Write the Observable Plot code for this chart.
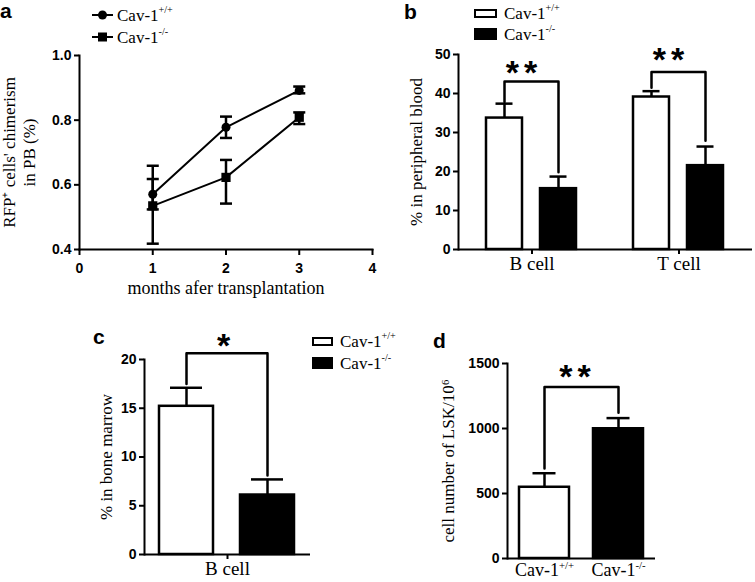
<!DOCTYPE html>
<html><head><meta charset="utf-8">
<script src="https://cdn.jsdelivr.net/npm/d3@7"></script>
<script src="https://cdn.jsdelivr.net/npm/@observablehq/plot@0.6"></script>
<style>
body{margin:0;background:#fff;}
#fig{position:relative;width:755px;height:582px;overflow:hidden;background:#fff;font-family:"Liberation Serif","Times New Roman",serif;color:#000;}
.panel{position:absolute;}
.plabel{position:absolute;font-family:"Liberation Sans",Arial,sans-serif;font-weight:bold;font-size:21px;line-height:1;}
.leg{position:absolute;height:18px;font-size:17px;line-height:1;white-space:nowrap;display:flex;align-items:center;}
.leg sup{font-size:60%;position:relative;top:-0.1em;vertical-align:super;line-height:0;}
</style></head><body><div id="fig"></div>
<script>
// ---------- data ----------
const genotypes = ["Cav-1^{+/+}", "Cav-1^{-/-}"];

// panel a: RFP+ chimerism in PB
const months = [1, 2, 3];
const aWtMean = [0.571, 0.778, 0.892];
const aWtLow  = [0.524, 0.745, 0.883];
const aWtHigh = [0.618, 0.811, 0.904];
const aKoMean = [0.535, 0.623, 0.809];
const aKoLow  = [0.418, 0.542, 0.788];
const aKoHigh = [0.659, 0.677, 0.824];
const aXTicks = [0, 1, 2, 3, 4];
const aYTicks = [0.4, 0.6, 0.8, 1.0];

// panel b: % in peripheral blood
const bCells = ["B cell", "T cell"];
const bWt = [33.7, 39.1];
const bWtHigh = [37.4, 40.6];
const bKo = [15.6, 21.5];
const bKoHigh = [18.7, 26.4];
const bBracketTop = [43.1, 45.5];
const bBracketLeft = [37.8, 41.5];
const bBracketRight = [19.8, 27.9];
const bStarY = [46.6, 50.0];
const bStars = ["**", "**"];
const bYTicks = [0, 10, 20, 30, 40, 50];

// panel c: % in bone marrow
const cCells = ["B cell"];
const cMeans = [15.2, 6.1];
const cHigh = [17.1, 7.7];
const cBracket = [17.5, 20.65, 20.65, 8.1];
const cStarY = [21.9];
const cStars = ["*"];
const cYTicks = [0, 5, 10, 15, 20];

// panel d: LSK cell number
const dMeans = [548, 998];
const dHigh = [656, 1080];
const dBracket = [692, 1320, 1320, 1122];
const dStarY = [1435];
const dStars = ["**"];
const dYTicks = [0, 500, 1000, 1500];

// ---------- helpers ----------
const SERIF = "Liberation Serif, Times New Roman, serif";
const SANS = "Liberation Sans, Arial, sans-serif";
const fig = document.getElementById("fig");
const baseStyle = {background: "transparent", overflow: "visible", fontFamily: SANS, color: "black"};
const htmlSup = s => s.replace(/\^\{(.*?)\}/g, "<sup>$1</sup>");

function supify(root) {
  root.querySelectorAll("text, tspan").forEach(el => {
    if (el.children.length) return;
    const m = el.textContent.match(/^(.*)\^\{(.*)\}(.*)$/);
    if (!m) return;
    el.textContent = m[1];
    const t = document.createElementNS("http://www.w3.org/2000/svg", "tspan");
    t.setAttribute("dy", "-0.7em");
    t.setAttribute("font-size", "60%");
    t.textContent = m[2];
    el.appendChild(t);
  });
  root.querySelectorAll("text").forEach(el => {
    if (/^\*+$/.test(el.textContent) && el.textContent.length > 1) el.style.letterSpacing = "5px";
  });
}
function place(svg, left, top, w, h) {
  const d = document.createElement("div");
  d.className = "panel";
  Object.assign(d.style, {left: left + "px", top: top + "px", width: w + "px", height: h + "px"});
  supify(svg);
  d.appendChild(svg);
  fig.appendChild(d);
}
function panelLabel(t, left, top) {
  const d = document.createElement("div");
  d.className = "plabel"; d.textContent = t;
  d.style.left = left + "px"; d.style.top = top + "px";
  fig.appendChild(d);
}
function legendRow(left, cy, swatch, label, gap) {
  const d = document.createElement("div");
  d.className = "leg";
  d.style.left = left + "px"; d.style.top = (cy - 9) + "px";
  d.innerHTML = swatch + `<span style="margin-left:${gap}px">${htmlSup(label)}</span>`;
  fig.appendChild(d);
}
const capSymbol = {draw(ctx, size) { const w = Math.sqrt(size); ctx.moveTo(-w, 0); ctx.lineTo(w, 0); }};
const SW = 2.5;
const TICKFONT = {fontWeight: "bold", fontSize: 14, fontFamily: SANS};
const STARFONT = {fontSize: 34, fontWeight: "bold", fontFamily: SANS, lineAnchor: "bottom", dy: 16};
const ylab = (txt, dx, extra = {}) => Plot.text([txt], {text: d => d, frameAnchor: "left", textAnchor: "middle", rotate: -90, dx, lineAnchor: "middle", fontFamily: SERIF, fontSize: 17, ...extra});

// ---------- panel a ----------
const aData = months.flatMap((m, i) => [
  {month: m, g: genotypes[0], mean: aWtMean[i], lo: aWtLow[i], hi: aWtHigh[i]},
  {month: m, g: genotypes[1], mean: aKoMean[i], lo: aKoLow[i], hi: aKoHigh[i]}
]);
const aWt = aData.filter(d => d.g === genotypes[0]);
const aKo = aData.filter(d => d.g === genotypes[1]);
const plotA = Plot.plot({
  width: 380, height: 300, marginLeft: 79, marginRight: 8, marginTop: 55, marginBottom: 51,
  style: baseStyle,
  x: {domain: [0, 4]}, y: {domain: [0.4, 1.0]},
  marks: [
    Plot.line(aData, {x: "month", y: "mean", z: "g", stroke: "black", strokeWidth: 2}),
    Plot.ruleX(aData, {x: "month", y1: "lo", y2: "hi", stroke: "black", strokeWidth: SW}),
    Plot.dot(aData, {x: "month", y: "lo", symbol: capSymbol, r: 3.4, stroke: "black", strokeWidth: SW, fill: "none"}),
    Plot.dot(aData, {x: "month", y: "hi", symbol: capSymbol, r: 3.4, stroke: "black", strokeWidth: SW, fill: "none"}),
    Plot.dot(aWt, {x: "month", y: "mean", symbol: "circle", r: 4.5, fill: "black", stroke: "none"}),
    Plot.dot(aKo, {x: "month", y: "mean", symbol: "square", r: 5.2, fill: "black", stroke: "none"}),
    Plot.frame({anchor: "left", strokeWidth: 2}),
    Plot.frame({anchor: "bottom", strokeWidth: 2}),
    Plot.axisX({ticks: aXTicks, tickFormat: "d", tickSize: 6, tickPadding: 8, ...TICKFONT, strokeWidth: 2, label: null}),
    Plot.axisY({ticks: aYTicks, tickFormat: ".1f", tickSize: 5, tickPadding: 3, ...TICKFONT, strokeWidth: 2, label: null}),
    ylab("RFP\u207A cells' chimerism\nin PB (%)", -61, {lineHeight: 1.2}),
    Plot.text(["months afer transplantation"], {text: d => d, frameAnchor: "bottom", dy: 44, lineAnchor: "bottom", fontFamily: SERIF, fontSize: 18})
  ]
});
place(plotA, 0, 0, 380, 300);

// ---------- panel b ----------
const bData = bCells.flatMap((c, i) => [
  {cell: c, g: genotypes[0], v: bWt[i], hi: bWtHigh[i]},
  {cell: c, g: genotypes[1], v: bKo[i], hi: bKoHigh[i]}
]);
const bBr = bCells.flatMap((c, i) => [
  {cell: c, g: genotypes[0], y: bBracketLeft[i]},
  {cell: c, g: genotypes[0], y: bBracketTop[i]},
  {cell: c, g: genotypes[1], y: bBracketTop[i]},
  {cell: c, g: genotypes[1], y: bBracketRight[i]}
]);
const bStarData = bCells.map((c, i) => ({cell: c, y: bStarY[i], label: bStars[i]}));
const plotB = Plot.plot({
  width: 375, height: 300, marginLeft: 77, marginRight: 3, marginTop: 54, marginBottom: 51,
  style: baseStyle,
  fx: {domain: bCells, padding: 0},
  x: {domain: genotypes, paddingInner: 0.327, paddingOuter: 0.51, axis: null},
  y: {domain: [0, 50]},
  color: {domain: genotypes, range: ["white", "black"]},
  marks: [
    Plot.ruleX(bData, {fx: "cell", x: "g", y1: "v", y2: "hi", stroke: "black", strokeWidth: SW}),
    Plot.tickY(bData, {fx: "cell", x: "g", y: "hi", stroke: "black", strokeWidth: SW, insetLeft: 9.5, insetRight: 9.5}),
    Plot.barY(bData, {fx: "cell", x: "g", y: "v", fill: "g", stroke: "black", strokeWidth: SW}),
    Plot.line(bBr, {fx: "cell", x: "g", y: "y", z: "cell", stroke: "black", strokeWidth: SW}),
    Plot.text(bStarData, {fx: "cell", y: "y", text: "label", frameAnchor: "middle", dx: -8, ...STARFONT}),
    Plot.ruleY([0], {stroke: "black", strokeWidth: 2}),
    Plot.frame({anchor: "left", facetAnchor: "left", strokeWidth: 2}),
    Plot.axisY({ticks: bYTicks, tickFormat: "d", tickSize: 5, tickPadding: 3, ...TICKFONT, strokeWidth: 2, label: null}),
    Plot.axisFx({anchor: "bottom", tickSize: 5, tickPadding: 2, fontFamily: SERIF, fontSize: 19, strokeWidth: 2, label: null}),
    ylab("% in peripheral blood", -42, {facetAnchor: "left"})
  ]
});
place(plotB, 380, 0, 375, 300);

// ---------- panel c ----------
const cData = genotypes.map((g, i) => ({cell: cCells[0], g, v: cMeans[i], hi: cHigh[i]}));
const cBr = [genotypes[0], genotypes[0], genotypes[1], genotypes[1]].map((g, i) => ({cell: cCells[0], g, y: cBracket[i]}));
const cStarData = cCells.map((c, i) => ({cell: c, y: cStarY[i], label: cStars[i]}));
const plotC = Plot.plot({
  width: 380, height: 292, marginLeft: 144, marginRight: 70, marginTop: 69, marginBottom: 28,
  style: baseStyle,
  fx: {domain: cCells, padding: 0},
  x: {domain: genotypes, paddingInner: 0.333, paddingOuter: 0.19, axis: null},
  y: {domain: [0, 20]},
  color: {domain: genotypes, range: ["white", "black"]},
  marks: [
    Plot.ruleX(cData, {fx: "cell", x: "g", y1: "v", y2: "hi", stroke: "black", strokeWidth: SW}),
    Plot.tickY(cData, {fx: "cell", x: "g", y: "hi", stroke: "black", strokeWidth: SW, insetLeft: 11, insetRight: 11}),
    Plot.barY(cData, {fx: "cell", x: "g", y: "v", fill: "g", stroke: "black", strokeWidth: SW}),
    Plot.line(cBr, {fx: "cell", x: "g", y: "y", stroke: "black", strokeWidth: SW}),
    Plot.text(cStarData, {fx: "cell", y: "y", text: "label", frameAnchor: "middle", dx: -4, ...STARFONT}),
    Plot.ruleY([0], {stroke: "black", strokeWidth: 2}),
    Plot.frame({anchor: "left", strokeWidth: 2}),
    Plot.axisY({ticks: cYTicks, tickFormat: "d", tickSize: 5, tickPadding: 3, ...TICKFONT, strokeWidth: 2, label: null}),
    Plot.axisFx({anchor: "bottom", tickSize: 5, tickPadding: 2, fontFamily: SERIF, fontSize: 19, strokeWidth: 2, label: null}),
    ylab("% in bone marrow", -38)
  ]
});
place(plotC, 0, 290, 380, 292);

// ---------- panel d ----------
const dData = genotypes.map((g, i) => ({g, v: dMeans[i], hi: dHigh[i]}));
const dBr = [genotypes[0], genotypes[0], genotypes[1], genotypes[1]].map((g, i) => ({g, y: dBracket[i]}));
const dStarData = dStars.map((s, i) => ({y: dStarY[i], label: s}));
const plotD = Plot.plot({
  width: 375, height: 292, marginLeft: 127, marginRight: 100, marginTop: 73, marginBottom: 24,
  style: baseStyle,
  x: {domain: genotypes, paddingInner: 0.32, paddingOuter: 0.147},
  y: {domain: [0, 1500]},
  color: {domain: genotypes, range: ["white", "black"]},
  marks: [
    Plot.ruleX(dData, {x: "g", y1: "v", y2: "hi", stroke: "black", strokeWidth: SW}),
    Plot.tickY(dData, {x: "g", y: "hi", stroke: "black", strokeWidth: SW, insetLeft: 13.5, insetRight: 13.5}),
    Plot.barY(dData, {x: "g", y: "v", fill: "g", stroke: "black", strokeWidth: SW}),
    Plot.line(dBr, {x: "g", y: "y", stroke: "black", strokeWidth: SW}),
    Plot.text(dStarData, {y: "y", text: "label", frameAnchor: "middle", dx: -4, ...STARFONT}),
    Plot.ruleY([0], {stroke: "black", strokeWidth: 2}),
    Plot.frame({anchor: "left", strokeWidth: 2}),
    Plot.axisY({ticks: dYTicks, tickFormat: "d", tickSize: 5, tickPadding: 3, ...TICKFONT, strokeWidth: 2, label: null}),
    Plot.axisX({tickSize: 0, tickPadding: 5, fontFamily: SERIF, fontSize: 18, label: null}),
    ylab("cell number of LSK/10\u2076", -59)
  ]
});
place(plotD, 380, 290, 375, 292);

// ---------- legends ----------
const lineCircle = `<svg width="21" height="12"><line x1="0" y1="6" x2="21" y2="6" stroke="black" stroke-width="2"/><circle cx="10.5" cy="6" r="4.5" fill="black"/></svg>`;
const lineSquare = `<svg width="21" height="12"><line x1="0" y1="6" x2="21" y2="6" stroke="black" stroke-width="2"/><rect x="6" y="1.5" width="9" height="9" fill="black"/></svg>`;
legendRow(92, 15, lineCircle, genotypes[0], 4);
legendRow(92, 37, lineSquare, genotypes[1], 4);
const openBox = (w, h) => `<span style="display:inline-block;box-sizing:border-box;width:${w}px;height:${h}px;border:2px solid black;background:white"></span>`;
const fillBox = (w, h) => `<span style="display:inline-block;width:${w}px;height:${h}px;background:black"></span>`;
legendRow(474, 13, openBox(23, 9), genotypes[0], 7);
legendRow(474, 34, fillBox(23, 12), genotypes[1], 7);
legendRow(312, 341, openBox(21, 9), genotypes[0], 7);
legendRow(312, 363, fillBox(21, 12), genotypes[1], 7);

// ---------- panel letters ----------
panelLabel("a", 0, 0);
panelLabel("b", 404, 1);
panelLabel("c", 93, 326);
panelLabel("d", 433, 330);
</script></body></html>
